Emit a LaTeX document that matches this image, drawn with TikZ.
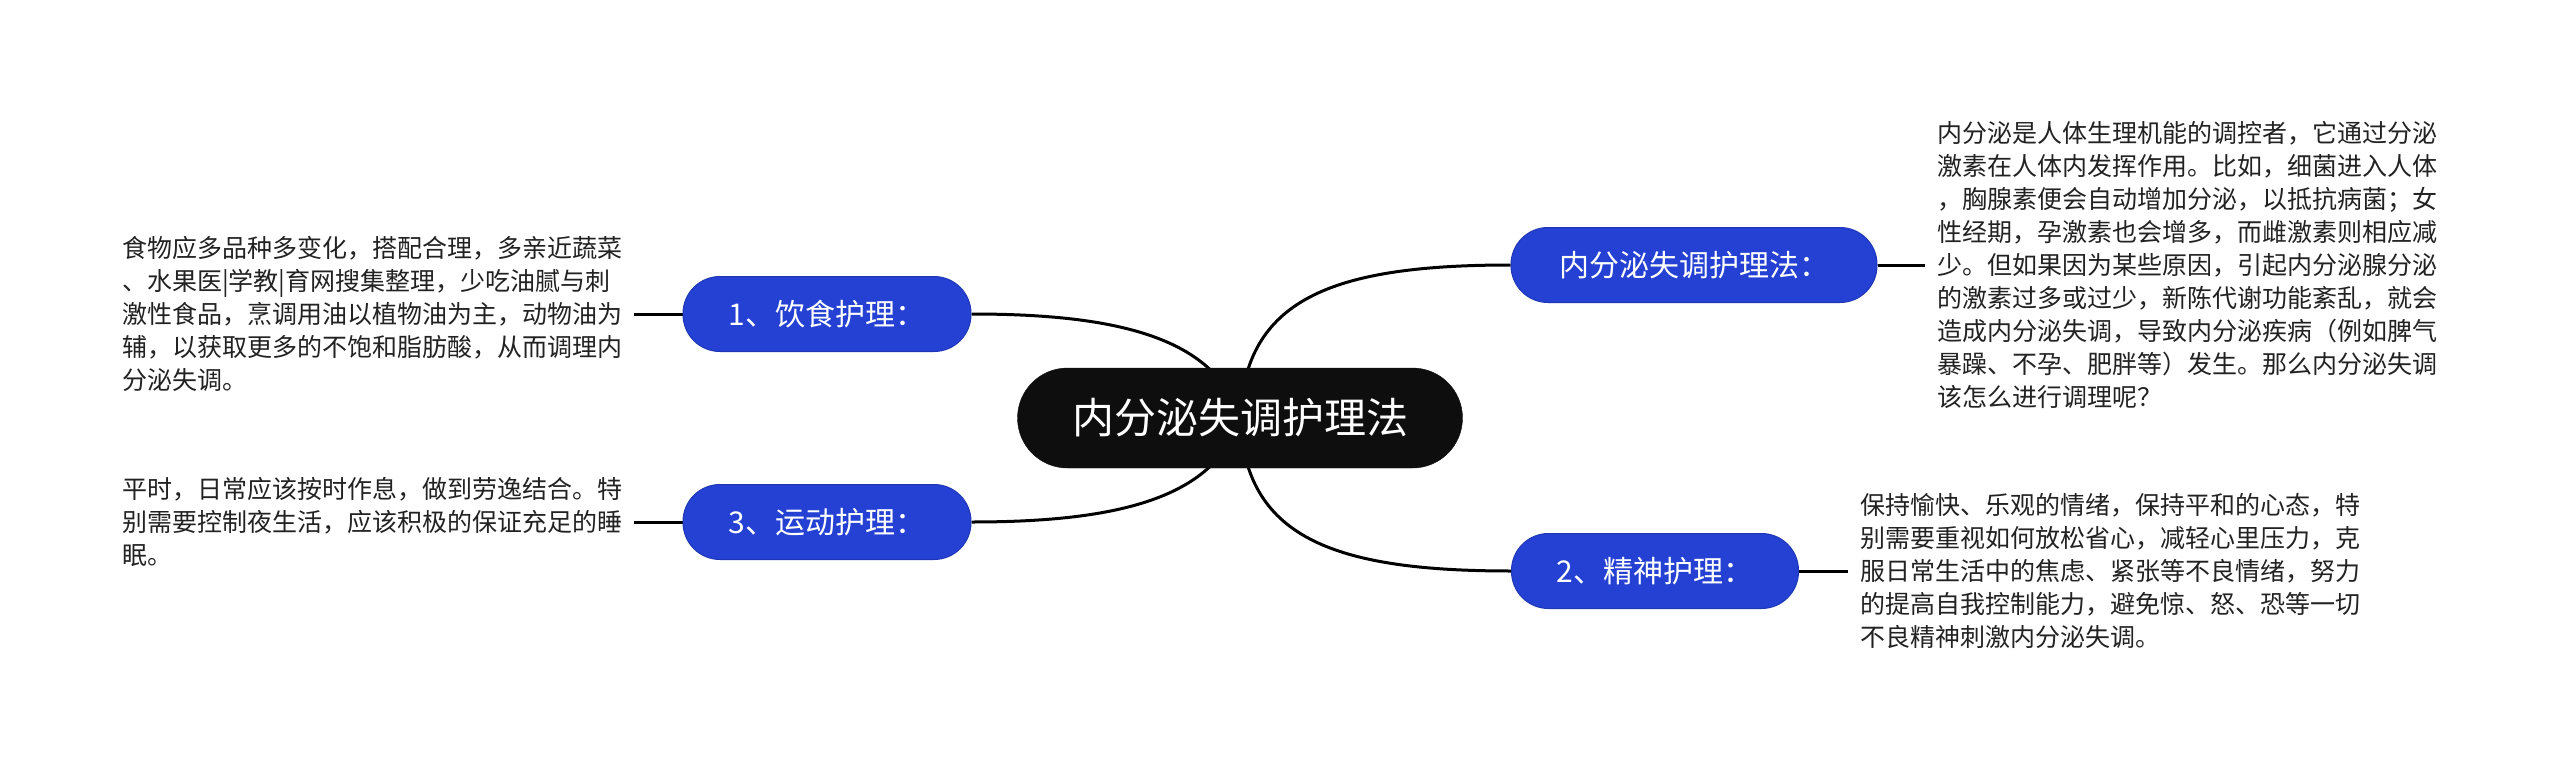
\documentclass[tikz,border=0pt]{standalone}
\usepackage{fontspec}
\newfontfamily\cjk{Noto Sans CJK SC}
\usetikzlibrary{calc}
\pgfdeclarelayer{bg}
\pgfsetlayers{bg,main}
\definecolor{nodeblue}{HTML}{2541D4}
\definecolor{rootblack}{HTML}{0E0E0E}
\definecolor{textgray}{HTML}{222222}
\begin{document}
\begin{tikzpicture}[x=1pt,y=-1pt,
  rootbox/.style={fill=rootblack, draw=rootblack, rounded corners=50pt, minimum width=445pt, minimum height=100pt, text=white, font=\cjk\fontsize{42}{50}\selectfont, inner sep=0pt},
  subbox/.style={fill=nodeblue, draw=nodeblue!85!black, line width=1pt, rounded corners=37pt, minimum height=75pt, text=white, font=\cjk\fontsize{30}{36}\selectfont, inner sep=0pt},
  desc/.style={align=left, font=\cjk\fontsize{25}{33}\selectfont, text=textgray, inner xsep=12pt, inner ysep=0pt, anchor=west},
  link/.style={draw=black, line width=3pt},
]
\useasboundingbox (0,0) rectangle (2560,773);

\node[rootbox] (root) at (1240,418) {内分泌失调护理法};
\node[subbox, minimum width=288pt] (n1) at (827,314) {1、饮食护理：};
\node[subbox, minimum width=288pt] (n3) at (827,522) {3、运动护理：};
\node[subbox, minimum width=366pt] (n0) at (1694,265) {内分泌失调护理法：};
\node[subbox, minimum width=287pt] (n2) at (1655,571) {2、精神护理：};

\node[desc] (t1) at (110,314) {食物应多品种多变化，搭配合理，多亲近蔬菜\\、水果医|学教|育网搜集整理，少吃油腻与刺\\激性食品，烹调用油以植物油为主，动物油为\\辅，以获取更多的不饱和脂肪酸，从而调理内\\分泌失调。};
\node[desc] (t3) at (110,522) {平时，日常应该按时作息，做到劳逸结合。特\\别需要控制夜生活，应该积极的保证充足的睡\\眠。};
\node[desc] (t0) at (1925,265) {内分泌是人体生理机能的调控者，它通过分泌\\激素在人体内发挥作用。比如，细菌进入人体\\，胸腺素便会自动增加分泌，以抵抗病菌；女\\性经期，孕激素也会增多，而雌激素则相应减\\少。但如果因为某些原因，引起内分泌腺分泌\\的激素过多或过少，新陈代谢功能紊乱，就会\\造成内分泌失调，导致内分泌疾病（例如脾气\\暴躁、不孕、肥胖等）发生。那么内分泌失调\\该怎么进行调理呢？};
\node[desc] (t2) at (1848,571) {保持愉快、乐观的情绪，保持平和的心态，特\\别需要重视如何放松省心，减轻心里压力，克\\服日常生活中的焦虑、紧张等不良情绪，努力\\的提高自我控制能力，避免惊、怒、恐等一切\\不良精神刺激内分泌失调。};

\begin{pgfonlayer}{bg}
\fill[white] (0,0) rectangle (2560,773);
\draw[link] (n1.east) .. controls (1110,314) and (1215,335) .. (root.center);
\draw[link] (n3.east) .. controls (1110,522) and (1215,501) .. (root.center);
\draw[link] (root.center) .. controls (1245,300) and (1330,265) .. (n0.west);
\draw[link] (root.center) .. controls (1245,536) and (1330,571) .. (n2.west);
\draw[link] (n1.west) -- (n1.west -| t1.east);
\draw[link] (n3.west) -- (n3.west -| t3.east);
\draw[link] (n0.east) -- (n0.east -| t0.west);
\draw[link] (n2.east) -- (n2.east -| t2.west);
\end{pgfonlayer}
\end{tikzpicture}
\end{document}
